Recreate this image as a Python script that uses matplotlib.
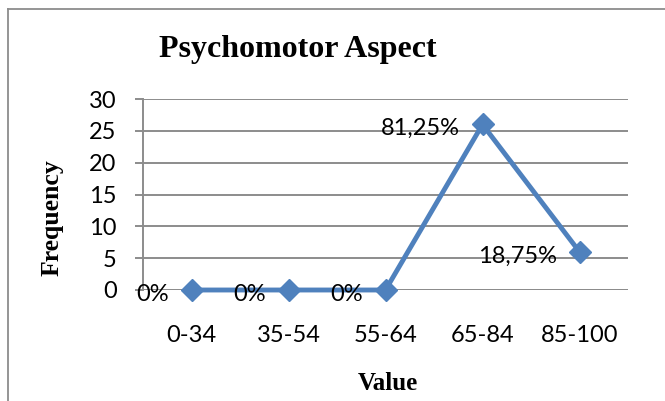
import matplotlib.pyplot as plt
from matplotlib.lines import Line2D

# Data
categories = ['0-34', '35-54', '55-64', '65-84', '85-100']
frequency = [0, 0, 0, 26, 6]
pct_labels = ['0%', '0%', '0%', '81,25%', '18,75%']
y_ticks = [0, 5, 10, 15, 20, 25, 30]

line_blue = '#4F81BD'
grid_gray = '#8C8C8C'
sans = ['Lato', 'DejaVu Sans']
serif = ['Liberation Serif', 'DejaVu Serif']
W, H = 665, 401

fig = plt.figure(figsize=(6.65, 4.01), dpi=100)
ax = fig.add_axes([143 / W, 1 - 290 / H, (628 - 143) / W, (290 - 99) / H])

x = list(range(len(categories)))
ax.plot(x, frequency, '-', color=line_blue, linewidth=3.5, marker='D',
        markersize=11, markerfacecolor=line_blue, markeredgecolor=line_blue,
        solid_joinstyle='miter', zorder=3, clip_on=False)

# data labels, to the left of each point
for xi, yi, lab in zip(x, frequency, pct_labels):
    ax.annotate(lab, (xi, yi), xytext=(-16.5, -3), textcoords='offset points',
                ha='right', va='center', fontsize=17, family=sans)

ax.set_xlim(-0.5, len(categories) - 0.5)
ax.set_ylim(0, 30)
ax.set_yticks(y_ticks)
ax.set_xticks(x)
ax.set_xticklabels(categories, fontsize=17, family=sans)
ax.set_yticklabels([str(v) for v in y_ticks], fontsize=17, family=sans)

ax.yaxis.grid(True, color=grid_gray, linewidth=1.4)
ax.set_axisbelow(True)
for s in ['top', 'right', 'bottom']:
    ax.spines[s].set_visible(False)
ax.spines['left'].set_color(grid_gray)
ax.spines['left'].set_linewidth(1.4)
ax.tick_params(axis='y', length=6, width=1.4, color=grid_gray, pad=13)
ax.tick_params(axis='x', length=0, pad=25)
ax.axhline(0, color=grid_gray, linewidth=1.4, zorder=1)

# titles placed in pixel positions of the chart area
fig.text(298 / W, 1 - 50 / H, 'Psychomotor Aspect', fontsize=23, fontweight='bold',
         family=serif, ha='center', va='center')
fig.text(52 / W, 1 - 218 / H, 'Frequency', fontsize=18.5, fontweight='bold',
         family=serif, ha='center', va='center', rotation=90)
fig.text(388 / W, 1 - 383 / H, 'Value', fontsize=18, fontweight='bold',
         family=serif, ha='center', va='center')

# outer chart border (left and top edges visible)
fig.add_artist(Line2D([8 / W, 8 / W], [0, 1 - 9 / H], color=grid_gray,
                      linewidth=1.3, transform=fig.transFigure))
fig.add_artist(Line2D([8 / W, 1], [1 - 9 / H, 1 - 9 / H], color=grid_gray,
                      linewidth=1.3, transform=fig.transFigure))

fig.savefig('out.png', dpi=100)
